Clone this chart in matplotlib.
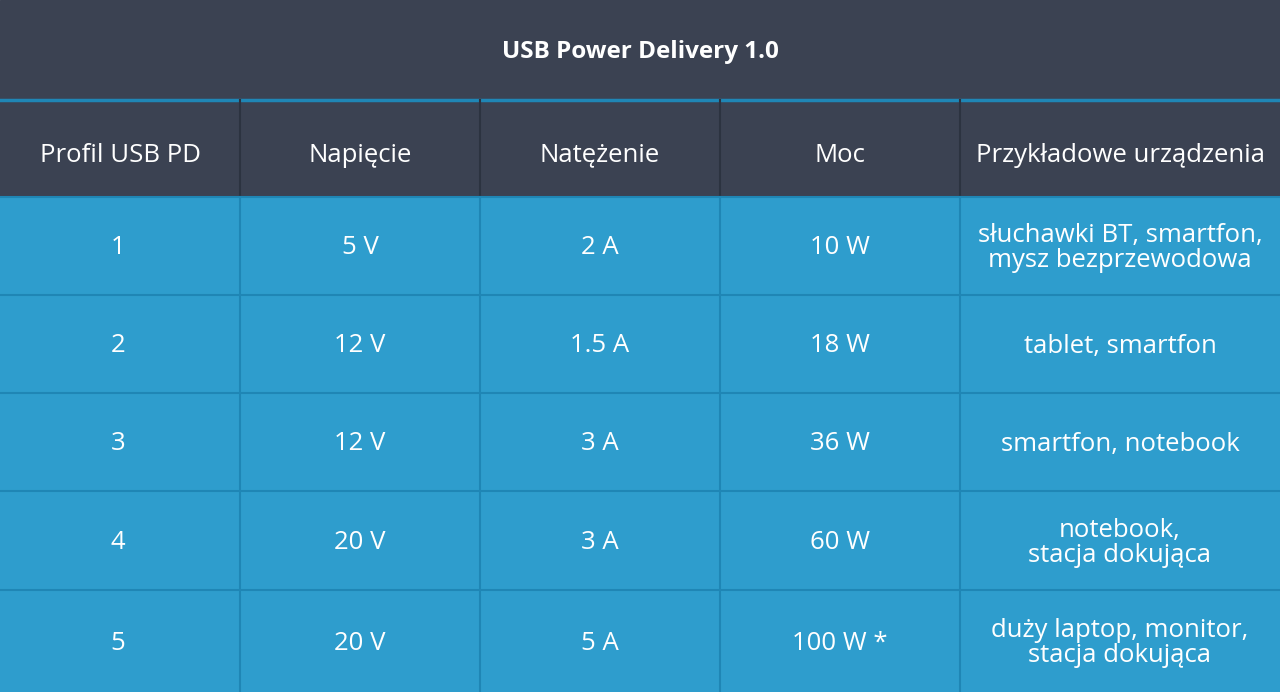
import matplotlib
matplotlib.use("Agg")
import matplotlib.pyplot as plt
from matplotlib.patches import Rectangle

plt.rcParams['font.family'] = ['Open Sans', 'DejaVu Sans']

title = "USB Power Delivery 1.0"
columns = ["Profil USB PD", "Napięcie", "Natężenie", "Moc", "Przykładowe urządzenia"]
profiles = ["1", "2", "3", "4", "5"]
voltages = ["5 V", "12 V", "12 V", "20 V", "20 V"]
currents = ["2 A", "1.5 A", "3 A", "3 A", "5 A"]
powers = ["10 W", "18 W", "36 W", "60 W", "100 W *"]
devices = ["słuchawki BT, smartfon,\nmysz bezprzewodowa", "tablet, smartfon",
           "smartfon, notebook", "notebook,\nstacja dokująca",
           "duży laptop, monitor,\nstacja dokująca"]

W, H = 1280, 692
fig = plt.figure(figsize=(12.8, 6.92), dpi=100)
ax = fig.add_axes([0, 0, 1, 1])
ax.set_xlim(0, W); ax.set_ylim(H, 0); ax.axis('off')

dark = "#3b4252"
blue = "#2e9dcd"
line_dark = "#2c3340"
line_blue = "#1f86b5"
col_x = [0, 240, 480, 720, 960, 1280]
row_y = [100, 197, 295, 393, 491, 590, 692]

ax.add_patch(Rectangle((0, 0), W, 100, color=dark))
ax.add_patch(Rectangle((0, 100), W, 97, color=dark))
ax.add_patch(Rectangle((0, 197), W, H - 197, color=blue))
ax.plot([0, W], [100, 100], color=line_blue, lw=2.5)
for x in col_x[1:-1]:
    ax.plot([x, x], [100, 197], color=line_dark, lw=1.5)
    ax.plot([x, x], [197, H], color=line_blue, lw=1.5)
for y in row_y[2:-1]:
    ax.plot([0, W], [y, y], color=line_blue, lw=1.5)
ax.plot([0, W], [197, 197], color=line_blue, lw=1.5)

fs = 18.5
ax.text(640, 52, title, color="white", fontsize=17.5, fontweight='bold', ha='center', va='center')
for i, c in enumerate(columns):
    ax.text((col_x[i] + col_x[i + 1]) / 2, 155, c, color="white", fontsize=fs, ha='center', va='center')
data = list(zip(profiles, voltages, currents, powers, devices))
for r, row in enumerate(data):
    yc = (row_y[r + 1] + row_y[r + 2]) / 2 + 2
    for i, v in enumerate(row):
        xc = (col_x[i] + col_x[i + 1]) / 2
        if i == 0:
            xc -= 2
        ax.text(xc, yc, v, color="white", fontsize=fs,
                ha='center', va='center', linespacing=1.0)

fig.savefig("out.png", dpi=100)
